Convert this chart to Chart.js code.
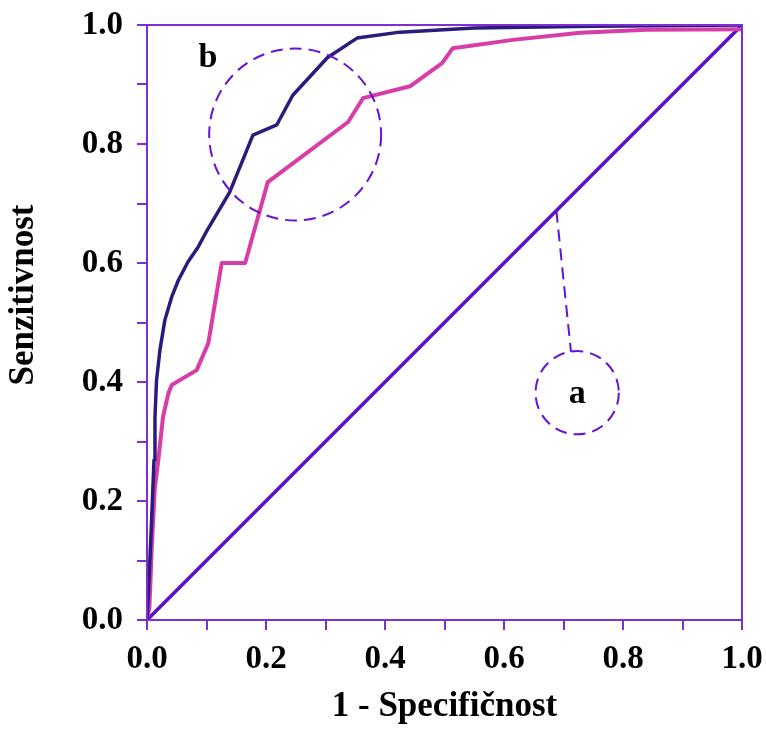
<!DOCTYPE html>
<html>
<head>
<meta charset="utf-8">
<script src="https://cdn.jsdelivr.net/npm/chart.js@4/dist/chart.umd.min.js"></script>
<style>
  html, body { margin: 0; padding: 0; background: #fff; }
  canvas { display: block; }
</style>
</head>
<body>
<canvas id="roc" width="766" height="731"></canvas>
<script>
// ROC curves
const diagX = [0, 1];
const diagY = [0, 1];

const curveBX = [0, 0.003, 0.007, 0.0118, 0.0134, 0.016, 0.0218, 0.030, 0.0415, 0.0527, 0.069, 0.086, 0.100, 0.139, 0.178, 0.218, 0.245, 0.303, 0.353, 0.425, 0.55, 0.75, 1.0];
const curveBY = [0, 0.06, 0.15, 0.269, 0.341, 0.403, 0.454, 0.504, 0.543, 0.571, 0.602, 0.627, 0.653, 0.719, 0.815, 0.832, 0.882, 0.945, 0.978, 0.988, 0.995, 0.998, 1.0];

const curvePX = [0, 0.004, 0.008, 0.013, 0.019, 0.027, 0.036, 0.0415, 0.0835, 0.103, 0.1255, 0.165, 0.203, 0.338, 0.363, 0.442, 0.496, 0.514, 0.615, 0.728, 0.84, 1.0];
const curvePY = [0, 0.02, 0.12, 0.22, 0.269, 0.342, 0.381, 0.395, 0.42, 0.465, 0.6, 0.6, 0.736, 0.837, 0.877, 0.897, 0.936, 0.961, 0.975, 0.987, 0.992, 0.993];

const tickValues = [0, 0.1, 0.2, 0.3, 0.4, 0.5, 0.6, 0.7, 0.8, 0.9, 1.0];

// annotations: dashed circles with letters, and a leader line
const noteLabels = ['b', 'a'];
const noteCircleX = [0.249, 0.723];
const noteCircleY = [0.816, 0.382];
const noteRadius = [0.1445, 0.07];
const noteTextX = [0.1025, 0.723];
const noteTextY = [0.9445, 0.38];
const leaderX = [0.688, 0.7126];
const leaderY = [0.688, 0.4504];

const axisColor = '#7b30d6';
const noteColor = '#6610d8';
const serif = '"Liberation Serif", "DejaVu Serif", serif';

const toPts = (xs, ys) => xs.map((x, i) => ({ x: x, y: ys[i] }));

const framePlugin = {
    id: 'frame',
    afterDatasetsDraw(chart) {
        const { ctx, chartArea: a, scales } = chart;
        ctx.save();
        ctx.strokeStyle = axisColor;
        ctx.lineWidth = 2;
        ctx.strokeRect(a.left, a.top, a.right - a.left, a.bottom - a.top);

        // annotations
        const sx = scales.x, sy = scales.y;
        const unit = sx.getPixelForValue(1) - sx.getPixelForValue(0);
        ctx.strokeStyle = noteColor;
        ctx.lineWidth = 2;
        ctx.setLineDash([12, 7]);
        noteLabels.forEach((lab, i) => {
            ctx.beginPath();
            ctx.arc(sx.getPixelForValue(noteCircleX[i]), sy.getPixelForValue(noteCircleY[i]),
                noteRadius[i] * unit, 0, Math.PI * 2);
            ctx.stroke();
        });
        ctx.beginPath();
        ctx.moveTo(sx.getPixelForValue(leaderX[0]), sy.getPixelForValue(leaderY[0]));
        ctx.lineTo(sx.getPixelForValue(leaderX[1]), sy.getPixelForValue(leaderY[1]));
        ctx.stroke();
        ctx.setLineDash([]);

        ctx.fillStyle = '#000';
        ctx.font = 'bold 34px ' + serif;
        ctx.textAlign = 'center';
        ctx.textBaseline = 'middle';
        noteLabels.forEach((lab, i) => {
            ctx.fillText(lab, sx.getPixelForValue(noteTextX[i]), sy.getPixelForValue(noteTextY[i]));
        });

        // y axis title
        ctx.save();
        ctx.translate(24, 295);
        ctx.rotate(-Math.PI / 2);
        ctx.font = 'bold 35px ' + serif;
        ctx.fillText('Senzitivnost', 0, 0);
        ctx.restore();
        ctx.restore();
    }
};

const tickOpts = {
    color: '#000',
    font: { family: serif, size: 33, weight: 'bold' },
    autoSkip: false,
    maxRotation: 0,
    stepSize: 0.1,
    callback: (v, i) => (i % 2 === 0 ? Number(v).toFixed(1) : '')
};
const gridOpts = { drawOnChartArea: false, drawTicks: true, tickLength: 10, color: axisColor, lineWidth: 2 };

new Chart(document.getElementById('roc'), {
    type: 'scatter',
    data: {
        datasets: [
            { label: 'b', data: toPts(curveBX, curveBY), borderColor: '#2c1a7c', borderWidth: 3.5 },
            { label: 'p', data: toPts(curvePX, curvePY), borderColor: '#d83ca9', borderWidth: 4 },
            { label: 'a', data: toPts(diagX, diagY), borderColor: '#5a0ec6', borderWidth: 3.5 }
        ].map(d => Object.assign(d, { showLine: true, pointRadius: 0, tension: 0, fill: false, borderJoinStyle: 'round' }))
    },
    options: {
        responsive: false,
        animation: false,
        layout: { padding: { top: 25, right: 24, left: 0, bottom: 0 } },
        plugins: { legend: { display: false }, tooltip: { enabled: false } },
        scales: {
            x: {
                type: 'linear', min: 0, max: 1,
                afterBuildTicks: s => { s.ticks = tickValues.map(v => ({ value: v })); },
                ticks: Object.assign({}, tickOpts, { padding: 10 }),
                grid: gridOpts,
                border: { display: true, color: axisColor, width: 2 },
                title: {
                    display: true, text: '1 - Specifičnost', color: '#000',
                    font: { family: serif, size: 35, weight: 'bold' },
                    padding: { top: 0, bottom: 3 }
                },
                afterFit: s => { s.height = 111; s.paddingLeft = 0; s.paddingRight = 0; }
            },
            y: {
                type: 'linear', min: 0, max: 1,
                afterBuildTicks: s => { s.ticks = tickValues.map(v => ({ value: v })); },
                ticks: Object.assign({}, tickOpts, { padding: 14 }),
                grid: gridOpts,
                border: { display: true, color: axisColor, width: 2 },
                afterFit: s => { s.width = 147; s.paddingTop = 0; s.paddingBottom = 0; }
            }
        }
    },
    plugins: [framePlugin]
});
</script>
</body>
</html>
